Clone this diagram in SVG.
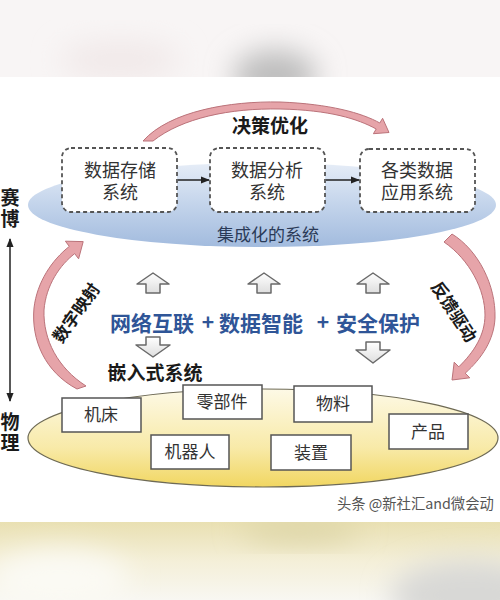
<svg xmlns="http://www.w3.org/2000/svg" width="500" height="600" viewBox="0 0 500 600">
<defs>
<style>
.cjk{font-family:"Noto Sans CJK SC","Noto Sans",sans-serif;}
.box{fill:#ffffff;stroke:#555555;stroke-width:1.8;stroke-dasharray:4 3;}
.boxt{font-size:18px;fill:#333333;text-anchor:middle;}
.node{fill:#ffffff;stroke:#555555;stroke-width:1.5;}
.nodet{font-size:17px;fill:#333333;text-anchor:middle;}
.bold{font-weight:bold;fill:#1a1a1a;}
.pink{fill:#e6a4a9;stroke:#bb737a;stroke-width:1;}
.hollow{fill:url(#hollowG);stroke:#6a6a6a;stroke-width:1.5;stroke-linejoin:round;}
.blue{font-weight:bold;fill:#2f5597;font-size:21px;}
.conn{stroke:#222222;stroke-width:1.5;fill:none;}
</style>
<linearGradient id="blueG" x1="0" y1="0" x2="0" y2="1">
<stop offset="0" stop-color="#e6edf7"/>
<stop offset="0.45" stop-color="#c6d6ec"/>
<stop offset="1" stop-color="#a2bbde"/>
</linearGradient>
<linearGradient id="yellowG" x1="0" y1="0" x2="0" y2="1">
<stop offset="0" stop-color="#fdf9e6"/>
<stop offset="0.6" stop-color="#f8eaa8"/>
<stop offset="1" stop-color="#f1d661"/>
</linearGradient>
<linearGradient id="hollowG" x1="0" y1="0" x2="0" y2="1">
<stop offset="0" stop-color="#ffffff"/>
<stop offset="1" stop-color="#dedede"/>
</linearGradient>
<linearGradient id="botBand" x1="0" y1="0" x2="0" y2="1">
<stop offset="0" stop-color="#e9e0b2"/>
<stop offset="0.5" stop-color="#f4efd8"/>
<stop offset="1" stop-color="#f8f7f2"/>
</linearGradient>
<filter id="blur" x="-50%" y="-50%" width="200%" height="200%"><feGaussianBlur stdDeviation="14"/></filter>
<clipPath id="topClip"><rect x="0" y="0" width="500" height="77"/></clipPath>
<clipPath id="botClip"><rect x="0" y="522" width="500" height="78"/></clipPath>
<marker id="ah" viewBox="0 0 10 10" refX="9" refY="5" markerWidth="6" markerHeight="6" orient="auto-start-reverse">
<path d="M0,1 L10,5 L0,9 Z" fill="#222222"/>
</marker>
</defs>

<!-- page background -->
<rect x="0" y="0" width="500" height="600" fill="#ffffff"/>
<g id="topband" clip-path="url(#topClip)">
<rect x="0" y="0" width="500" height="77" fill="#f8f5f5"/>
<ellipse cx="275" cy="76" rx="42" ry="26" fill="#bdbdbd" filter="url(#blur)"/>
<ellipse cx="120" cy="60" rx="60" ry="20" fill="#f1e9e9" filter="url(#blur)"/>
</g>
<g id="bottomband" clip-path="url(#botClip)">
<rect x="0" y="522" width="500" height="78" fill="url(#botBand)"/>
<ellipse cx="470" cy="595" rx="80" ry="35" fill="#d8d8d6" filter="url(#blur)"/>
<ellipse cx="60" cy="580" rx="70" ry="30" fill="#fbfaf4" filter="url(#blur)"/>
<ellipse cx="300" cy="530" rx="60" ry="12" fill="#dcd4a6" filter="url(#blur)"/>
</g>

<!-- cyber layer -->
<ellipse id="cyber-layer" cx="262" cy="205" rx="234" ry="42" fill="url(#blueG)"/>
<text class="cjk" x="268" y="241" font-size="17" fill="#2a3a57" text-anchor="middle">集成化的系统</text>

<!-- physical layer -->
<ellipse id="physical-layer" cx="263" cy="438" rx="235" ry="49" fill="url(#yellowG)" stroke="#6e6a55" stroke-width="1.2"/>

<!-- connectors -->
<g id="connectors">
<line class="conn" x1="178" y1="180" x2="209" y2="180" marker-end="url(#ah)"/>
<line class="conn" x1="326" y1="180" x2="359" y2="180" marker-end="url(#ah)"/>
<line class="conn" x1="10" y1="239" x2="10" y2="401" marker-start="url(#ah)" marker-end="url(#ah)"/>
<path class="pink" d="M 143 141 C 170 111, 230 101, 280 102 C 330 104, 362 113, 379.8 123 L 382.6 118.3 L 389 132.5 L 373.4 133.7 L 376.2 129 C 358 119, 330 110, 280 109 C 230 108, 182 118, 153 141 Z"/>
<path class="pink" d="M 77 389 C 45 372, 31 340, 34 308 C 37 282, 52 260, 69.3 246.4 L 65.4 241.2 L 83.2 241.6 L 78.6 258.8 L 74.7 253.6 C 60 265, 46 285, 44 310 C 43 340, 58 368, 86 386 Z"/>
<path class="pink" d="M 452 234 C 478 250, 496 285, 495 318 C 494 340, 482 358, 465.2 373.2 L 469.8 377.8 L 452 380 L 454.2 362.2 L 458.8 366.8 C 474 352, 485 335, 485 315 C 485 290, 470 260, 444 242 Z"/>
<polygon class="hollow" points="153,273 169,284 160,284 160,293 146,293 146,284 137,284"/>
<polygon class="hollow" points="264,273 280,284 271,284 271,293 257,293 257,284 248,284"/>
<polygon class="hollow" points="373,273 389,284 380,284 380,293 366,293 366,284 357,284"/>
<polygon class="hollow" points="146,337 160,337 160,345 170,345 153,357 136,345 146,345"/>
<polygon class="hollow" points="366,342 380,342 380,350 390,350 373,363 356,350 366,350"/>
</g>

<!-- labels -->
<text class="cjk bold" x="270" y="133" font-size="19" text-anchor="middle">决策优化</text>
<text class="cjk bold" x="75" y="312" font-size="17" text-anchor="middle" dominant-baseline="central" transform="rotate(-55 75 312)">数字映射</text>
<text class="cjk bold" x="455" y="311" font-size="17" text-anchor="middle" dominant-baseline="central" transform="rotate(57 455 311)">反馈驱动</text>
<g id="side-labels">
<text class="cjk bold" font-size="19" text-anchor="middle"><tspan x="10" y="205">赛</tspan><tspan x="10" y="226">博</tspan></text>
<text class="cjk bold" font-size="19" text-anchor="middle"><tspan x="10" y="429">物</tspan><tspan x="10" y="450">理</tspan></text>
</g>
<g id="tech">
<text class="cjk blue" x="110" y="331">网络互联</text>
<text class="cjk blue" x="208" y="330" text-anchor="middle">+</text>
<text class="cjk blue" x="219" y="331">数据智能</text>
<text class="cjk blue" x="323" y="330" text-anchor="middle">+</text>
<text class="cjk blue" x="336" y="331">安全保护</text>
</g>
<text class="cjk bold" x="155" y="380" font-size="19" text-anchor="middle">嵌入式系统</text>

<!-- cyber nodes -->
<g id="n-storage">
<rect class="box" x="62" y="148" width="115" height="64" rx="9"/>
<text class="cjk boxt"><tspan x="120" y="177">数据存储</tspan><tspan x="120" y="199">系统</tspan></text>
</g>
<g id="n-analysis">
<rect class="box" x="210" y="148" width="115" height="64" rx="9"/>
<text class="cjk boxt"><tspan x="267" y="177">数据分析</tspan><tspan x="267" y="199">系统</tspan></text>
</g>
<g id="n-apps">
<rect class="box" x="360" y="149" width="115" height="63" rx="9"/>
<text class="cjk boxt"><tspan x="417" y="177">各类数据</tspan><tspan x="417" y="199">应用系统</tspan></text>
</g>

<!-- physical nodes -->
<g id="n-machine-tool">
<rect class="node" x="62" y="398" width="79" height="34"/>
<text class="cjk nodet" x="101" y="421">机床</text>
</g>
<g id="n-parts">
<rect class="node" x="183" y="385" width="79" height="34"/>
<text class="cjk nodet" x="222" y="408">零部件</text>
</g>
<g id="n-material">
<rect class="node" x="294" y="386" width="78" height="36"/>
<text class="cjk nodet" x="333" y="410">物料</text>
</g>
<g id="n-product">
<rect class="node" x="389" y="414" width="79" height="35"/>
<text class="cjk nodet" x="428" y="438">产品</text>
</g>
<g id="n-robot">
<rect class="node" x="151" y="435" width="78" height="34"/>
<text class="cjk nodet" x="190" y="458">机器人</text>
</g>
<g id="n-device">
<rect class="node" x="271" y="435" width="80" height="35"/>
<text class="cjk nodet" x="311" y="459">装置</text>
</g>

<text class="cjk" x="337" y="509" font-size="14.3" fill="#555555">头条 @新社汇and微会动</text>
</svg>
